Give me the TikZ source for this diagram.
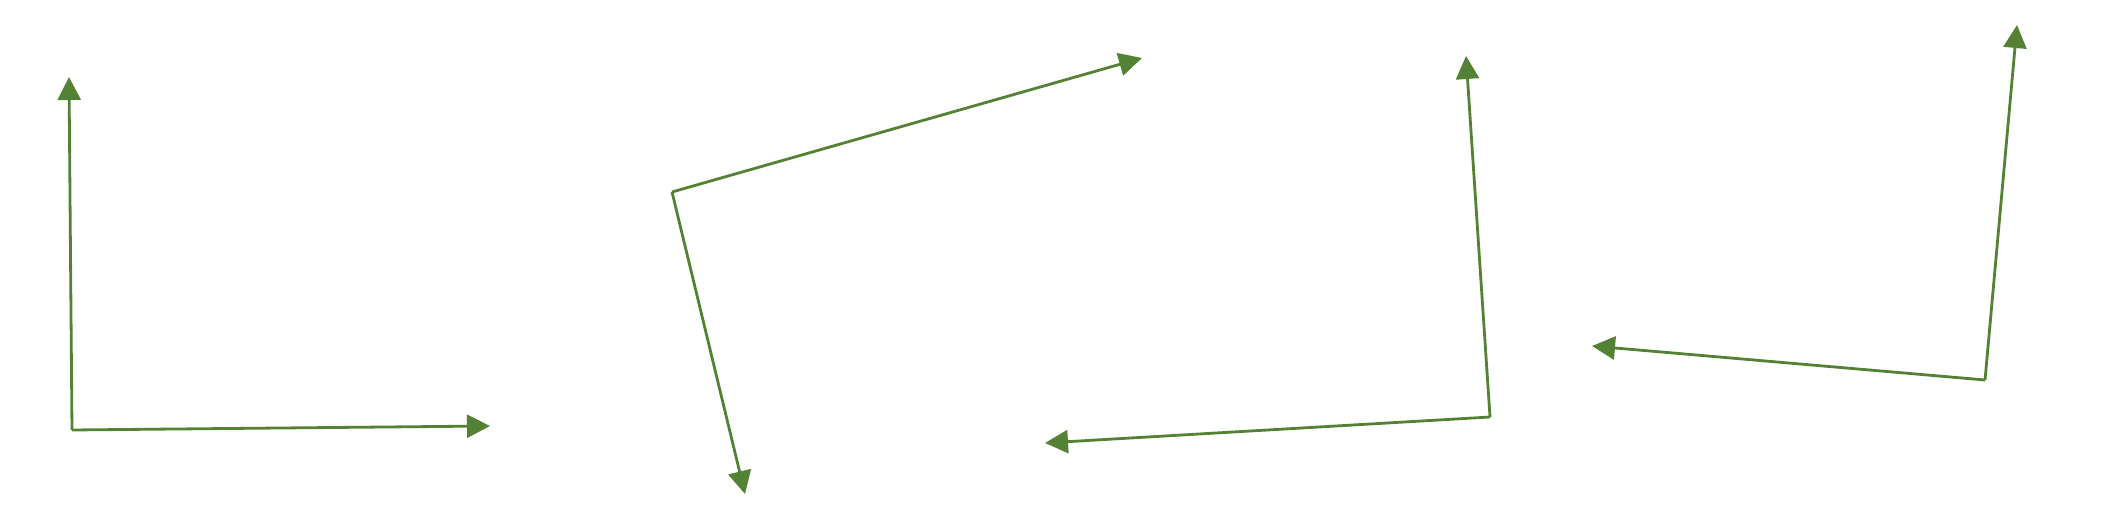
\documentclass[tikz,border=0pt]{standalone}
\usetikzlibrary{arrows.meta}
\definecolor{vecgreen}{RGB}{84,130,53}
\begin{document}
\begin{tikzpicture}[x=0.5pt,y=-0.5pt,
  vec/.style={draw=vecgreen,line width=1.4pt,-{Triangle[length=11.5pt,width=11.5pt]}}]
\useasboundingbox (0,0) rectangle (2102,522);
% figure 1
\coordinate (o1) at (72,430);
\coordinate (a1) at (69,77);
\coordinate (b1) at (490,426);
\draw[vec] (o1) -- (a1);
\draw[vec] (o1) -- (b1);
% figure 2
\coordinate (o2) at (672,192);
\coordinate (a2) at (1142,58);
\coordinate (b2) at (745,494);
\draw[vec] (o2) -- (a2);
\draw[vec] (o2) -- (b2);
% figure 3
\coordinate (o3) at (1490,417);
\coordinate (a3) at (1466,56);
\coordinate (b3) at (1045,443);
\draw[vec] (o3) -- (a3);
\draw[vec] (o3) -- (b3);
% figure 4
\coordinate (o4) at (1985,380);
\coordinate (a4) at (2017,25);
\coordinate (b4) at (1592,346);
\draw[vec] (o4) -- (a4);
\draw[vec] (o4) -- (b4);
\end{tikzpicture}
\end{document}
